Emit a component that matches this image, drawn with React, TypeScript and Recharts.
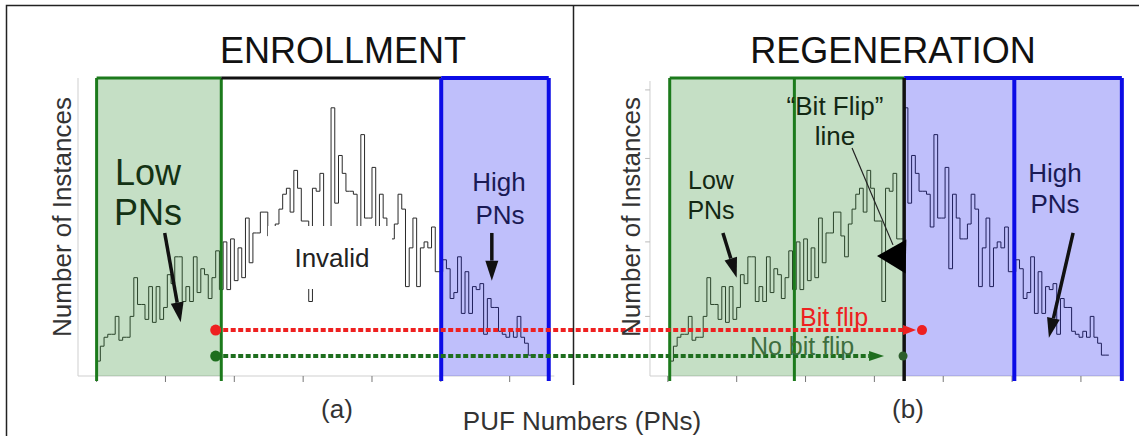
import React from 'react';
import {
  ComposedChart,
  Line,
  XAxis,
  YAxis,
  ReferenceArea,
  ReferenceLine,
  ReferenceDot,
} from 'recharts';

const WIDTH = 1139;
const HEIGHT = 436;
const FONT = '"Liberation Sans", Arial, sans-serif';

// Number of instances per PN bin (same distribution in both panels)
const counts = [
  5, 10, 13, 14, 14, 20, 12, 13, 13, 20,
  33, 24, 24, 19, 30, 18, 30, 19, 23, 34,
  31, 40, 40, 25, 30, 25, 40, 28, 36, 34,
  26, 33, 42, 29, 45, 29, 46, 32, 43, 33,
  53, 38, 48, 48, 55, 55, 47, 40, 51, 56,
  61, 63, 55, 69, 63, 52, 52, 25, 63, 62,
  68, 46, 46, 90, 58, 74, 68, 62, 62, 61,
  50, 81, 53, 53, 70, 36, 61, 53, 46, 46,
  51, 61, 56, 30, 43, 53, 30, 43, 45, 43,
  50, 35, 35, 39, 36, 26, 28, 40, 21, 35,
  21, 30, 29, 31, 14, 26, 23, 23, 15, 14,
  13, 15, 13, 20, 13, 11, 7, 7,
];

// where each panel's bins begin on the shared PN axis
const ENROLL_START = 0;
const REGEN_START = 154;

// thresholds, relative to a panel's first bin
const LOW_MAX = 33.5;
const HIGH_MIN = 92.6;
const PN_MAX = 121.5;
const FLIP_LINE = 63;

const axisTicks = [0, 18.5, 37, 55.5, 74, 92.5, 111];

// one enrolled PN and where it ends up at regeneration
const ENROLLED_PN = 32;
const FLIPPED_PN = 67.8;
const FLIPPED_TIP = 66.2;
const KEPT_PN = 62.7;
const KEPT_TIP = 57.6;
const FLIP_ROW = 15.4;
const KEPT_ROW = 6.7;

// pointer arrows from the labels down into the histograms
const pointers = [
  { x1: ENROLL_START + 18.3, y1: 48, x2: ENROLL_START + 22.6, y2: 18 },
  { x1: ENROLL_START + 106.2, y1: 48, x2: ENROLL_START + 106.2, y2: 32 },
  { x1: REGEN_START + 14.3, y1: 48, x2: REGEN_START + 18, y2: 33 },
  { x1: REGEN_START + 108.4, y1: 48, x2: REGEN_START + 101.9, y2: 12.8 },
];

const GREEN = '#1c7a1c';
const GREEN_FILL = '#2e8b2e';
const BLUE = '#0c0ce6';
const BLUE_FILL = '#0000f0';
const RED = '#ee2020';
const DARK_GREEN = '#1e6e1e';

const histogram = (start: number) =>
  [...counts, counts[counts.length - 1]].map((n, i) => ({ pn: start + i, n }));

const enrollData = histogram(ENROLL_START);
const regenData = histogram(REGEN_START);

const xTicks = [
  ...axisTicks.map((t) => ENROLL_START + t),
  ...axisTicks.map((t) => REGEN_START + t - 0.5),
];

// right-hand panel has its own y axis with a few bare tick marks
const regenYTicks = [20, 45, 73, 96];

type Seg = { x1?: number | string; y1?: number | string; x2?: number | string; y2?: number | string };

// line with a filled arrowhead at its end point
const arrow =
  (color: string, lineW: number, head: number, half: number, dash?: string) =>
  (p: Seg) => {
    const x1 = Number(p.x1);
    const y1 = Number(p.y1);
    const x2 = Number(p.x2);
    const y2 = Number(p.y2);
    const len = Math.hypot(x2 - x1, y2 - y1) || 1;
    const ux = (x2 - x1) / len;
    const uy = (y2 - y1) / len;
    const bx = x2 - ux * head;
    const by = y2 - uy * head;
    return (
      <g>
        {lineW > 0 && (
          <line x1={x1} y1={y1} x2={bx} y2={by} stroke={color} strokeWidth={lineW} strokeDasharray={dash} />
        )}
        <polygon
          points={`${x2},${y2} ${bx - uy * half},${by + ux * half} ${bx + uy * half},${by - ux * half}`}
          fill={color}
        />
      </g>
    );
  };

const noLabel = () => <g />;

const vLine = (x: number, color: string, w: number, key: string) => (
  <ReferenceLine
    key={key}
    segment={[{ x, y: -1.7 }, { x, y: 100 }]}
    stroke={color}
    strokeWidth={w}
    ifOverflow="visible"
    zIndex={500}
  />
);

const hLine = (a: number, b: number, color: string, w: number, key: string) => (
  <ReferenceLine
    key={key}
    segment={[{ x: a, y: 100 }, { x: b, y: 100 }]}
    stroke={color}
    strokeWidth={w}
    ifOverflow="visible"
    zIndex={500}
  />
);

const T = (props: React.SVGProps<SVGTextElement> & { children: React.ReactNode }) => (
  <text textAnchor="middle" fontFamily={FONT} {...props} />
);

export default function App() {
  return (
    <div style={{ position: 'absolute', left: 0, top: 0, width: WIDTH, height: HEIGHT, background: '#fff' }}>
      <ComposedChart width={WIDTH} height={HEIGHT} margin={{ top: 78, right: 19, bottom: 0, left: 0 }}>
        <XAxis
          type="number"
          dataKey="pn"
          domain={[-5, 275]}
          allowDataOverflow
          ticks={xTicks}
          interval={0}
          tick={noLabel}
          tickSize={6}
          tickLine={{ stroke: '#777' }}
          axisLine={false}
          height={60}
        />
        <YAxis
          type="number"
          domain={[0, 100]}
          allowDataOverflow
          width={78}
          tick={false}
          tickLine={false}
          axisLine={{ stroke: '#cfcfcf' }}
        />

        {/* axis baselines and the second panel's y axis */}
        <ReferenceLine
          segment={[{ x: -5, y: 0 }, { x: ENROLL_START + PN_MAX + 1.5, y: 0 }]}
          stroke="#cfcfcf"
          ifOverflow="visible"
        />
        <ReferenceLine
          segment={[{ x: REGEN_START - 5.3, y: 0 }, { x: 275, y: 0 }]}
          stroke="#cfcfcf"
          ifOverflow="visible"
        />
        <ReferenceLine
          segment={[{ x: REGEN_START - 5.3, y: 0 }, { x: REGEN_START - 5.3, y: 99 }]}
          stroke="#cfcfcf"
          ifOverflow="visible"
        />
        {regenYTicks.map((v) => (
          <ReferenceLine
            key={`ry-${v}`}
            segment={[{ x: REGEN_START - 6.6, y: v }, { x: REGEN_START - 5.3, y: v }]}
            stroke="#bbb"
            ifOverflow="visible"
          />
        ))}

        <Line
          data={enrollData}
          dataKey="n"
          type="stepAfter"
          stroke="#2a2a2a"
          strokeWidth={1}
          dot={false}
          isAnimationActive={false}
          zIndex={400}
        />
        <Line
          data={regenData}
          dataKey="n"
          type="stepAfter"
          stroke="#2a2a2a"
          strokeWidth={1}
          dot={false}
          isAnimationActive={false}
          zIndex={400}
        />

        {/* low / high PN regions */}
        <ReferenceArea x1={ENROLL_START} x2={ENROLL_START + LOW_MAX} y1={0} y2={100} fill={GREEN_FILL} fillOpacity={0.28} ifOverflow="visible" zIndex={450} />
        <ReferenceArea x1={ENROLL_START + HIGH_MIN} x2={ENROLL_START + PN_MAX} y1={0} y2={100} fill={BLUE_FILL} fillOpacity={0.25} ifOverflow="visible" zIndex={450} />
        <ReferenceArea x1={REGEN_START} x2={REGEN_START + FLIP_LINE} y1={0} y2={100} fill={GREEN_FILL} fillOpacity={0.28} ifOverflow="visible" zIndex={450} />
        <ReferenceArea x1={REGEN_START + FLIP_LINE} x2={REGEN_START + PN_MAX} y1={0} y2={100} fill={BLUE_FILL} fillOpacity={0.25} ifOverflow="visible" zIndex={450} />

        {vLine(ENROLL_START, GREEN, 3, 'e-g0')}
        {vLine(ENROLL_START + LOW_MAX, GREEN, 3, 'e-g1')}
        {hLine(ENROLL_START, ENROLL_START + LOW_MAX, GREEN, 3, 'e-gt')}
        {hLine(ENROLL_START + LOW_MAX, ENROLL_START + HIGH_MIN, '#111', 3, 'e-kt')}
        {vLine(ENROLL_START + HIGH_MIN, BLUE, 4, 'e-b0')}
        {vLine(ENROLL_START + PN_MAX, BLUE, 4, 'e-b1')}
        {hLine(ENROLL_START + HIGH_MIN, ENROLL_START + PN_MAX, BLUE, 4, 'e-bt')}

        {vLine(REGEN_START, GREEN, 3, 'r-g0')}
        {vLine(REGEN_START + LOW_MAX, GREEN, 3, 'r-g1')}
        {hLine(REGEN_START, REGEN_START + FLIP_LINE, GREEN, 3, 'r-gt')}
        {hLine(REGEN_START + FLIP_LINE, REGEN_START + PN_MAX, BLUE, 4, 'r-bt')}
        {vLine(REGEN_START + HIGH_MIN, BLUE, 4, 'r-b0')}
        {vLine(REGEN_START + PN_MAX, BLUE, 4, 'r-b1')}
        {vLine(REGEN_START + FLIP_LINE, '#111', 3.5, 'r-flip')}

        {/* enrolled PN tracked into regeneration */}
        <ReferenceLine
          segment={[{ x: ENROLL_START + ENROLLED_PN, y: FLIP_ROW }, { x: REGEN_START + FLIPPED_TIP, y: FLIP_ROW }]}
          shape={arrow(RED, 4, 13, 5, '5 2.5')}
          ifOverflow="visible"
          zIndex={550}
        />
        <ReferenceLine
          segment={[{ x: ENROLL_START + ENROLLED_PN, y: KEPT_ROW }, { x: REGEN_START + KEPT_TIP, y: KEPT_ROW }]}
          shape={arrow(DARK_GREEN, 4, 15, 5, '5 2.5')}
          ifOverflow="visible"
          zIndex={550}
        />
        <ReferenceDot x={ENROLL_START + ENROLLED_PN} y={FLIP_ROW} r={5.5} fill={RED} stroke="none" zIndex={600} />
        <ReferenceDot x={ENROLL_START + ENROLLED_PN} y={KEPT_ROW} r={5.5} fill={DARK_GREEN} stroke="none" zIndex={600} />
        <ReferenceDot x={REGEN_START + FLIPPED_PN} y={FLIP_ROW} r={5} fill={RED} stroke="none" zIndex={600} />
        <ReferenceDot x={REGEN_START + KEPT_PN} y={KEPT_ROW} r={4.5} fill="#2d5e2d" stroke="none" zIndex={600} />

        {pointers.map((p, i) => (
          <ReferenceLine
            key={`ptr-${i}`}
            segment={[{ x: p.x1, y: p.y1 }, { x: p.x2, y: p.y2 }]}
            shape={arrow('#111', 3.5, 20, 6.5)}
            ifOverflow="visible"
            zIndex={550}
          />
        ))}

        {/* "Bit Flip" line callout */}
        <ReferenceLine
          segment={[{ x: REGEN_START + 49, y: 76.5 }, { x: REGEN_START + 60, y: 44 }]}
          stroke="#222"
          strokeWidth={1.2}
          ifOverflow="visible"
          zIndex={550}
        />
        <ReferenceLine
          segment={[{ x: REGEN_START + 63.3, y: 40.1 }, { x: REGEN_START + 55.7, y: 40.3 }]}
          shape={arrow('#000', 0, 29, 17)}
          ifOverflow="visible"
          zIndex={550}
        />
      </ComposedChart>

      <svg
        width={WIDTH}
        height={HEIGHT}
        style={{ position: 'absolute', left: 0, top: 0, pointerEvents: 'none' }}
      >
        <path d="M6.5 436 V5.5 H1139" fill="none" stroke="#222" strokeWidth={1.5} />
        <line x1={573.5} y1={5} x2={573.5} y2={385} stroke="#222" strokeWidth={1.5} />

        <T x={343} y={63} fontSize={36} fill="#111">ENROLLMENT</T>
        <T x={893} y={63} fontSize={36} fill="#111">REGENERATION</T>

        <T transform="translate(71,217) rotate(-90)" fontSize={26} fill="#333">Number of Instances</T>
        <T transform="translate(640,217) rotate(-90)" fontSize={26} fill="#333">Number of Instances</T>

        <T x={148} y={185} fontSize={36} fill="#143214">Low</T>
        <T x={148} y={225} fontSize={36} fill="#143214">PNs</T>
        <T x={499} y={191} fontSize={26} fill="#1a1a55">High</T>
        <T x={500} y={224} fontSize={26} fill="#1a1a55">PNs</T>

        <rect x={268} y={226} width={124} height={63} fill="#fff" />
        <T x={332} y={267} fontSize={26} fill="#222">Invalid</T>

        <T x={711} y={189} fontSize={25} fill="#132813">Low</T>
        <T x={711} y={219} fontSize={25} fill="#132813">PNs</T>
        <T x={835} y={115} fontSize={26} fill="#132813">{'\u201cBit Flip\u201d'}</T>
        <T x={835} y={145} fontSize={26} fill="#132813">line</T>
        <T x={1055} y={182} fontSize={26} fill="#1a1a55">High</T>
        <T x={1055} y={213} fontSize={26} fill="#1a1a55">PNs</T>

        <T x={834} y={326} fontSize={25} fill={RED}>Bit flip</T>
        <T x={802} y={355} fontSize={25} fill="#3e6e3e">No bit flip</T>

        <T x={337} y={418} fontSize={26} fill="#333">(a)</T>
        <T x={908} y={418} fontSize={26} fill="#333">(b)</T>
        <T x={582} y={430} fontSize={26} fill="#333">PUF Numbers (PNs)</T>
      </svg>
    </div>
  );
}
